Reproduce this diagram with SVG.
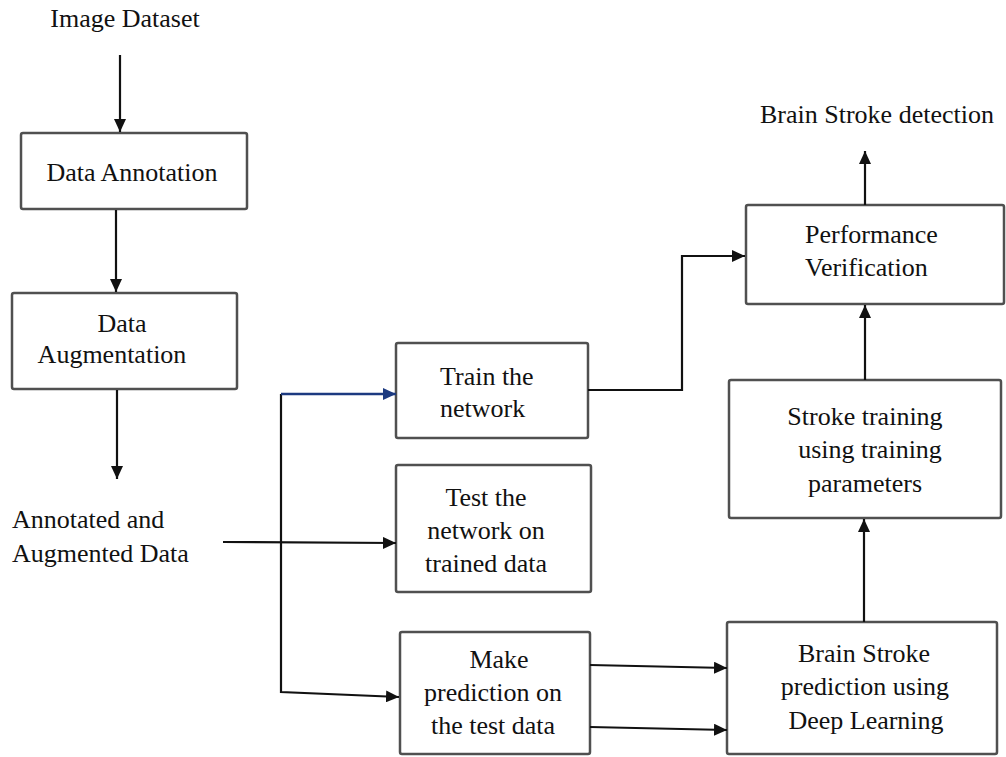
<svg xmlns="http://www.w3.org/2000/svg" width="1006" height="757" viewBox="0 0 1006 757">
  <style>
    .box { fill: #fff; stroke: #505050; stroke-width: 2.5; }
    .lbl { font-family: "Liberation Serif", "Times New Roman", serif; font-size: 26px; fill: #111; }
    .mid { text-anchor: middle; }
    .wire { fill: none; stroke: #111; stroke-width: 2.2; }
    .blue { fill: none; stroke: #1c3a80; stroke-width: 2.6; }
  </style>
  <defs>
    <marker id="head" markerUnits="userSpaceOnUse" markerWidth="14" markerHeight="12" refX="13" refY="6" orient="auto">
      <path d="M0,0 L13,6 L0,12 Z" fill="#111"/>
    </marker>
    <marker id="headBlue" markerUnits="userSpaceOnUse" markerWidth="14" markerHeight="12" refX="13" refY="6" orient="auto">
      <path d="M0,0 L13,6 L0,12 Z" fill="#1c3a80"/>
    </marker>
  </defs>
  <rect width="1006" height="757" fill="#fff"/>

  <!-- free-standing labels -->
  <g id="image-dataset">
    <text class="lbl mid" x="125" y="27">Image Dataset</text>
  </g>
  <g id="annotated-augmented-data">
    <text class="lbl" x="12" y="528">Annotated and</text>
    <text class="lbl" x="12" y="562">Augmented Data</text>
  </g>
  <g id="brain-stroke-detection">
    <text class="lbl" x="760" y="123">Brain Stroke detection</text>
  </g>

  <!-- process boxes -->
  <g id="data-annotation">
    <rect class="box" x="21" y="133" width="226" height="76" rx="2"/>
    <text class="lbl mid" x="132" y="181">Data Annotation</text>
  </g>
  <g id="data-augmentation">
    <rect class="box" x="12" y="293" width="225" height="96" rx="2"/>
    <text class="lbl mid" x="122" y="332">Data</text>
    <text class="lbl mid" x="112" y="363">Augmentation</text>
  </g>
  <g id="train-network">
    <rect class="box" x="396" y="343" width="192" height="95" rx="2"/>
    <text class="lbl" x="440" y="385">Train the</text>
    <text class="lbl" x="440" y="417">network</text>
  </g>
  <g id="test-network">
    <rect class="box" x="396" y="465" width="195" height="127" rx="2"/>
    <text class="lbl mid" x="486" y="506">Test the</text>
    <text class="lbl mid" x="486" y="539">network on</text>
    <text class="lbl mid" x="486" y="572">trained data</text>
  </g>
  <g id="make-prediction">
    <rect class="box" x="400" y="632" width="190" height="122" rx="2"/>
    <text class="lbl mid" x="499" y="668">Make</text>
    <text class="lbl mid" x="493" y="701">prediction on</text>
    <text class="lbl mid" x="493" y="734">the test data</text>
  </g>
  <g id="performance-verification">
    <rect class="box" x="746" y="205" width="258" height="99" rx="2"/>
    <text class="lbl" x="805" y="243">Performance</text>
    <text class="lbl" x="805" y="276">Verification</text>
  </g>
  <g id="stroke-training">
    <rect class="box" x="729" y="380" width="272" height="138" rx="2"/>
    <text class="lbl mid" x="865" y="425">Stroke training</text>
    <text class="lbl mid" x="870" y="458">using training</text>
    <text class="lbl mid" x="865" y="492">parameters</text>
  </g>
  <g id="brain-stroke-prediction">
    <rect class="box" x="727" y="622" width="270" height="132" rx="2"/>
    <text class="lbl mid" x="864" y="662">Brain Stroke</text>
    <text class="lbl mid" x="865" y="695">prediction using</text>
    <text class="lbl mid" x="866" y="729">Deep Learning</text>
  </g>

  <!-- connectors -->
  <g id="connectors">
    <path class="wire" d="M120,55 L120,132" marker-end="url(#head)"/>
    <path class="wire" d="M116,210 L116,292" marker-end="url(#head)"/>
    <path class="wire" d="M117,390 L117,479" marker-end="url(#head)"/>
    <path class="wire" d="M223,542 L396,543" marker-end="url(#head)"/>
    <path class="wire" d="M281,394 L281,692 L399,697" marker-end="url(#head)"/>
    <path class="blue" d="M281,394 L396,394" marker-end="url(#headBlue)"/>
    <path class="wire" d="M588,390 L682,390 L682,256 L745,256" marker-end="url(#head)"/>
    <path class="wire" d="M590,665 L727,668" marker-end="url(#head)"/>
    <path class="wire" d="M590,727 L727,730" marker-end="url(#head)"/>
    <path class="wire" d="M864,622 L864,519" marker-end="url(#head)"/>
    <path class="wire" d="M865,380 L865,305" marker-end="url(#head)"/>
    <path class="wire" d="M865,205 L865,151" marker-end="url(#head)"/>
  </g>
</svg>
